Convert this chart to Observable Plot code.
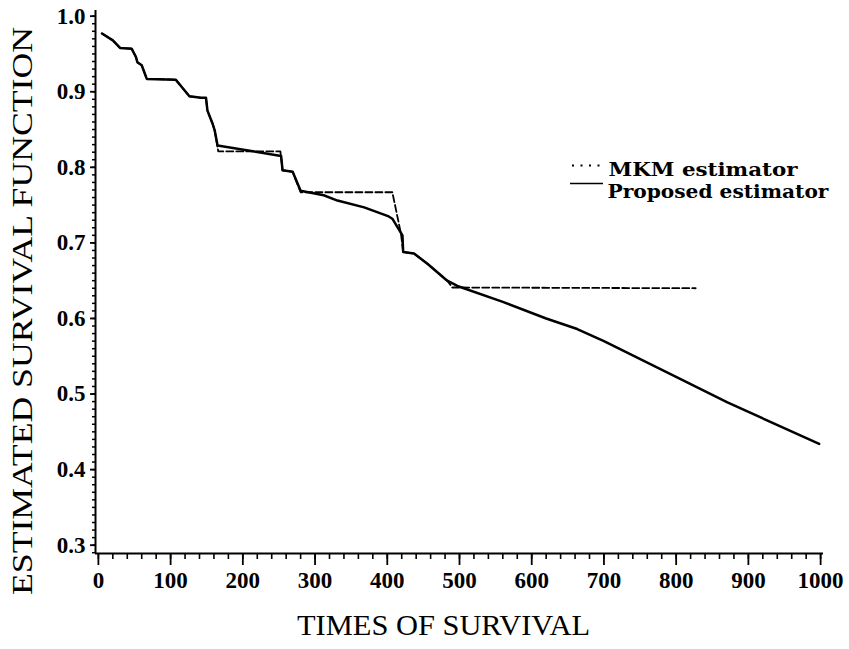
<!DOCTYPE html>
<html>
<head>
<meta charset="utf-8">
<script src="https://cdn.jsdelivr.net/npm/d3@7"></script>
<script src="https://cdn.jsdelivr.net/npm/@observablehq/plot@0.6"></script>
<style>
  body { margin: 0; background: #fff; }
  #chart { width: 849px; height: 649px; }
</style>
</head>
<body>
<div id="chart"></div>
<script>
// Proposed estimator (solid)
const proposedTime = [5, 20, 30, 46, 52, 54, 60, 67, 107, 114, 126, 142, 149, 151, 158, 161, 165, 253, 255, 269, 280, 312, 331, 368, 402, 407, 421, 422, 437, 456, 483, 497, 560, 620, 663, 700, 795, 871, 998];
const proposedSurv = [0.977, 0.968, 0.958, 0.957, 0.946, 0.939, 0.935, 0.917, 0.916, 0.908, 0.894, 0.892, 0.892, 0.875, 0.858, 0.849, 0.829, 0.815, 0.796, 0.794, 0.769, 0.763, 0.756, 0.747, 0.735, 0.732, 0.710, 0.688, 0.686, 0.672, 0.650, 0.643, 0.622, 0.600, 0.586, 0.570, 0.525, 0.489, 0.434];

// MKM estimator (dashed)
const mkmTime = [5, 20, 30, 46, 52, 54, 60, 67, 107, 114, 126, 142, 149, 151, 158, 161, 166, 252, 255, 269, 280, 407, 419, 422, 437, 456, 483, 490, 827];
const mkmSurv = [0.977, 0.968, 0.958, 0.957, 0.946, 0.939, 0.935, 0.917, 0.916, 0.908, 0.894, 0.892, 0.892, 0.875, 0.858, 0.849, 0.821, 0.821, 0.796, 0.794, 0.767, 0.767, 0.712, 0.688, 0.686, 0.672, 0.650, 0.641, 0.640];

const xTicks = [0, 100, 200, 300, 400, 500, 600, 700, 800, 900, 1000];
const yTicks = [0.3, 0.4, 0.5, 0.6, 0.7, 0.8, 0.9, 1.0];
const xMinorStep = 20;
const yMinorStep = 0.01;
const seriesNames = ["MKM estimator", "Proposed estimator"];
const xTitle = "TIMES OF SURVIVAL";
const yTitle = "ESTIMATED SURVIVAL FUNCTION";

const proposed = proposedTime.map((t, i) => ({t, s: proposedSurv[i]}));
const mkm = mkmTime.map((t, i) => ({t, s: mkmSurv[i]}));
const xMinor = d3.range(0, 1000 + 1e-9, xMinorStep);
const yMinor = d3.range(29, 101).map(d => d * yMinorStep);

const xDomain = [-4, 1004];
const yDomain = [0.289, 1.0075];

const tickFont = "'Liberation Serif', serif";
const legendFont = "'DejaVu Serif', serif";

const plot = Plot.plot({
  width: 849,
  height: 649,
  marginLeft: 95,
  marginRight: 26,
  marginTop: 10,
  marginBottom: 96,
  x: {domain: xDomain, label: null},
  y: {domain: yDomain, label: null},
  style: {fontFamily: tickFont, background: "white", color: "black"},
  marks: [
    Plot.axisX({ticks: xMinor, tickSize: 6, tickFormat: () => "", strokeWidth: 1.6, label: null}),
    Plot.axisX({ticks: xTicks, tickSize: 12, tickPadding: 6, fontSize: 23, fontWeight: "bold", strokeWidth: 1.8, tickFormat: d => String(d), label: null}),
    Plot.axisY({ticks: yMinor, tickSize: 3, tickFormat: () => "", strokeWidth: 1.5, label: null}),
    Plot.axisY({ticks: yTicks, tickSize: 5, tickPadding: 5, fontSize: 23, fontWeight: "bold", strokeWidth: 1.8, tickFormat: d => d.toFixed(1), label: null}),
    Plot.ruleX([xDomain[0]], {strokeWidth: 2}),
    Plot.ruleY([yDomain[0]], {strokeWidth: 2}),
    Plot.line(mkm, {x: "t", y: "s", stroke: "black", strokeWidth: 1.8, strokeDasharray: "7,3"}),
    Plot.line(proposed, {x: "t", y: "s", stroke: "black", strokeWidth: 2.5}),
    Plot.text([xTitle], {frameAnchor: "bottom", text: d => d, textAnchor: "middle", dx: -16, dy: 81, fontSize: 29, fontFamily: "'Liberation Serif', serif", className: "xtitle"}),
    Plot.text([yTitle], {frameAnchor: "left", text: d => d, textAnchor: "middle", rotate: -90, dx: -73, dy: 29, fontSize: 29, fontFamily: "'Liberation Serif', serif", className: "ytitle"}),
    Plot.text([seriesNames[0]], {frameAnchor: "top-left", text: d => d, textAnchor: "start", dx: 513, dy: 152, fontSize: 19, fontWeight: "bold", fontFamily: legendFont, className: "leg1"}),
    Plot.text([seriesNames[1]], {frameAnchor: "top-left", text: d => d, textAnchor: "start", dx: 512, dy: 174, fontSize: 19, fontWeight: "bold", fontFamily: legendFont, className: "leg2"})
  ]
});

const svg = d3.select(plot);
// stretch titles to the reference's wide typesetting
svg.selectAll("g.xtitle text").attr("textLength", 293).attr("lengthAdjust", "spacingAndGlyphs");
svg.selectAll("g.ytitle text").attr("textLength", 568).attr("lengthAdjust", "spacingAndGlyphs");
svg.selectAll("g.leg1 text").attr("textLength", 189).attr("lengthAdjust", "spacingAndGlyphs");
svg.selectAll("g.leg2 text").attr("textLength", 221).attr("lengthAdjust", "spacingAndGlyphs");
// legend samples
svg.append("line").attr("x1", 572).attr("x2", 604).attr("y1", 165.5).attr("y2", 165.5)
  .attr("stroke", "black").attr("stroke-width", 2.2).attr("stroke-dasharray", "2,6.5");
svg.append("line").attr("x1", 570).attr("x2", 603).attr("y1", 183.5).attr("y2", 183.5)
  .attr("stroke", "black").attr("stroke-width", 1.3);

document.getElementById("chart").appendChild(plot);
</script>
</body>
</html>
